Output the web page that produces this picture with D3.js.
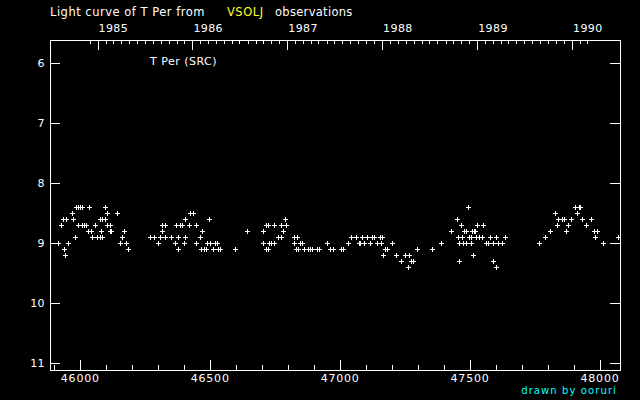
<!DOCTYPE html>
<html><head><meta charset="utf-8">
<script src="https://cdn.jsdelivr.net/npm/d3@7"></script>
<style>html,body{margin:0;background:#000;} svg{display:block;}</style>
</head><body>
<svg id="c" width="640" height="400"></svg>
<script>
// ---- data (JD - 2400000 vs visual magnitude) ----
const titleParts = ["Light curve of T Per from", "VSOLJ", "observations"];
const starLabel = "T Per (SRC)";
const credit = "drawn by ooruri";
const magTicks = [6, 7, 8, 9, 10, 11];
const jdMajorTicks = [46000, 46500, 47000, 47500, 48000];
const yearTicks = [1985, 1986, 1987, 1988, 1989, 1990];
const magRows = [8.4, 8.5, 8.6, 8.7, 8.8, 8.9, 9.0, 9.1, 9.2, 9.3, 9.4];
const jd84 = [45982, 45990, 45998, 46005, 46035, 46096, 47492, 47904, 47919, 47923];
const jd85 = [45969, 46104, 46142, 46423, 46435, 47827, 47912];
const jd86 = [45935, 45945, 45973, 46075, 46085, 46095, 46404, 46496, 46788, 47450, 47838, 47854, 47862, 47888, 47931, 47965];
const jd87 = [45927, 45992, 46008, 46015, 46023, 46058, 46104, 46114, 46315, 46326, 46369, 46385, 46390, 46419, 46446, 46715, 46723, 46746, 46773, 46792, 47465, 47527, 47550, 47835, 47877, 47946];
const jd88 = [46031, 46040, 46081, 46113, 46119, 46169, 46315, 46469, 46642, 46704, 46781, 47427, 47477, 47485, 47508, 47515, 47519, 47808, 47869, 47977, 47988];
const jd89 = [45981, 46046, 46065, 46076, 46085, 46162, 46269, 46285, 46308, 46326, 46348, 46377, 46404, 46462, 46762, 46772, 46823, 46833, 47042, 47062, 47085, 47104, 47123, 47131, 47154, 47162, 47454, 47469, 47496, 47504, 47523, 47535, 47546, 47575, 47600, 47635, 47788, 47981, 48069];
const jd90 = [45915, 45954, 46154, 46177, 46300, 46363, 46400, 46446, 46488, 46499, 46519, 46527, 46704, 46727, 46735, 46746, 46823, 46846, 46854, 46950, 47031, 47073, 47077, 47092, 47115, 47142, 47158, 47200, 47388, 47458, 47473, 47485, 47504, 47562, 47569, 47588, 47608, 47623, 47765, 48012];
const jd91 = [45938, 46185, 46377, 46465, 46477, 46485, 46512, 46531, 46538, 46596, 46715, 46723, 46831, 46838, 46862, 46877, 46885, 46892, 46912, 46919, 46962, 46973, 47004, 47012, 47173, 47181, 47296, 47354];
const jd92 = [45942, 47165, 47215, 47250, 47265, 47512];
const jd93 = [47235, 47273, 47281, 47458, 47588];
const jd94 = [47262, 47600];
const jdRows = [jd84, jd85, jd86, jd87, jd88, jd89, jd90, jd91, jd92, jd93, jd94];

const points = [];
magRows.forEach((m, i) => jdRows[i].forEach(j => points.push({jd: j, mag: m})));

// ---- layout ----
const L = 50, R = 620, T = 40, B = 370;
const x = d3.scaleLinear().domain([45883.4, 48077]).range([L, R]);
const y = d3.scaleLinear().domain([5.61, 11.11]).range([T, B]);
// JD-2400000 <-> calendar date (MJD = JD - 2400000.5)
const dateToJd = d => d.getTime() / 86400000 + 40587 + 0.5;

const svg = d3.select("#c");
svg.append("rect").attr("width", 640).attr("height", 400).attr("fill", "#000");
const font = "'DejaVu Sans', sans-serif";
const g = svg.append("g").attr("shape-rendering", "crispEdges").attr("stroke", "#fff").attr("stroke-width", 1);

// frame
g.append("rect").attr("x", L + 0.5).attr("y", T + 0.5).attr("width", R - L).attr("height", B - T).attr("fill", "none");

const px = v => Math.round(v) + 0.5;

// bottom axis: major every 500, minor every 100
const minorJd = d3.range(45900, 48077, 100);
g.selectAll(".bmin").data(minorJd).join("line")
  .attr("x1", d => px(x(d))).attr("x2", d => px(x(d)))
  .attr("y1", B).attr("y2", d => jdMajorTicks.includes(d) ? B - 10 : B - 5);

// top axis: year major, month minor
const startDate = new Date(Date.UTC(1984, 11, 1));
const endDate = new Date(Date.UTC(1990, 3, 1));
const months = d3.utcMonth.range(startDate, endDate).filter(d => {
  const j = dateToJd(d); return j > x.domain()[0] && j < x.domain()[1];
});
g.selectAll(".tmin").data(months).join("line")
  .attr("x1", d => px(x(dateToJd(d)))).attr("x2", d => px(x(dateToJd(d))))
  .attr("y1", T).attr("y2", d => d.getUTCMonth() === 0 ? T + 10 : T + 4);

// left/right magnitude ticks
g.selectAll(".lt").data(magTicks).join("line")
  .attr("x1", L).attr("x2", L + 10).attr("y1", d => px(y(d))).attr("y2", d => px(y(d)));
g.selectAll(".rt").data(magTicks).join("line")
  .attr("x1", R - 10).attr("x2", R).attr("y1", d => px(y(d))).attr("y2", d => px(y(d)));

// labels
const txt = svg.append("g").attr("font-family", font).attr("fill", "#fff");
txt.selectAll(".yl").data(magTicks).join("text")
  .attr("x", 45).attr("y", d => y(d) + 4).attr("text-anchor", "end").attr("font-size", 11)
  .attr("letter-spacing", 0.4).text(d => d);
txt.selectAll(".xl").data(jdMajorTicks).join("text")
  .attr("x", d => x(d)).attr("y", 382).attr("text-anchor", "middle").attr("font-size", 11)
  .attr("letter-spacing", 0.8).text(d => d);
txt.selectAll(".yr").data(yearTicks).join("text")
  .attr("x", d => x(dateToJd(new Date(Date.UTC(d, 0, 1)))) + 1).attr("y", 32).attr("font-size", 11)
  .attr("letter-spacing", 0.4).text(d => d);

txt.append("text").attr("x", 50).attr("y", 16).attr("font-size", 11.5).attr("letter-spacing", 0.5).text(titleParts[0]);
txt.append("text").attr("x", 227).attr("y", 16).attr("font-size", 11.5).attr("letter-spacing", 0.5)
  .attr("fill", "#ffff33").text(titleParts[1]);
txt.append("text").attr("x", 275).attr("y", 16).attr("font-size", 11.5).attr("letter-spacing", 0.3).text(titleParts[2]);
txt.append("text").attr("x", 150).attr("y", 65).attr("font-size", 11).attr("letter-spacing", 0.5).text(starLabel);
txt.append("text").attr("x", 617).attr("y", 394).attr("text-anchor", "end").attr("font-size", 10)
  .attr("letter-spacing", 1.1).attr("fill", "#00ffff").text(credit);

// data crosses
const marks = svg.append("g").attr("fill", "#fff").attr("shape-rendering", "crispEdges");
const cross = marks.selectAll("g").data(points).join("g")
  .attr("transform", d => `translate(${Math.round(x(d.jd))},${Math.round(y(d.mag))})`);
cross.append("rect").attr("x", -2).attr("y", 0).attr("width", 5).attr("height", 1);
cross.append("rect").attr("x", 0).attr("y", -2).attr("width", 1).attr("height", 5);
</script>
</body></html>
